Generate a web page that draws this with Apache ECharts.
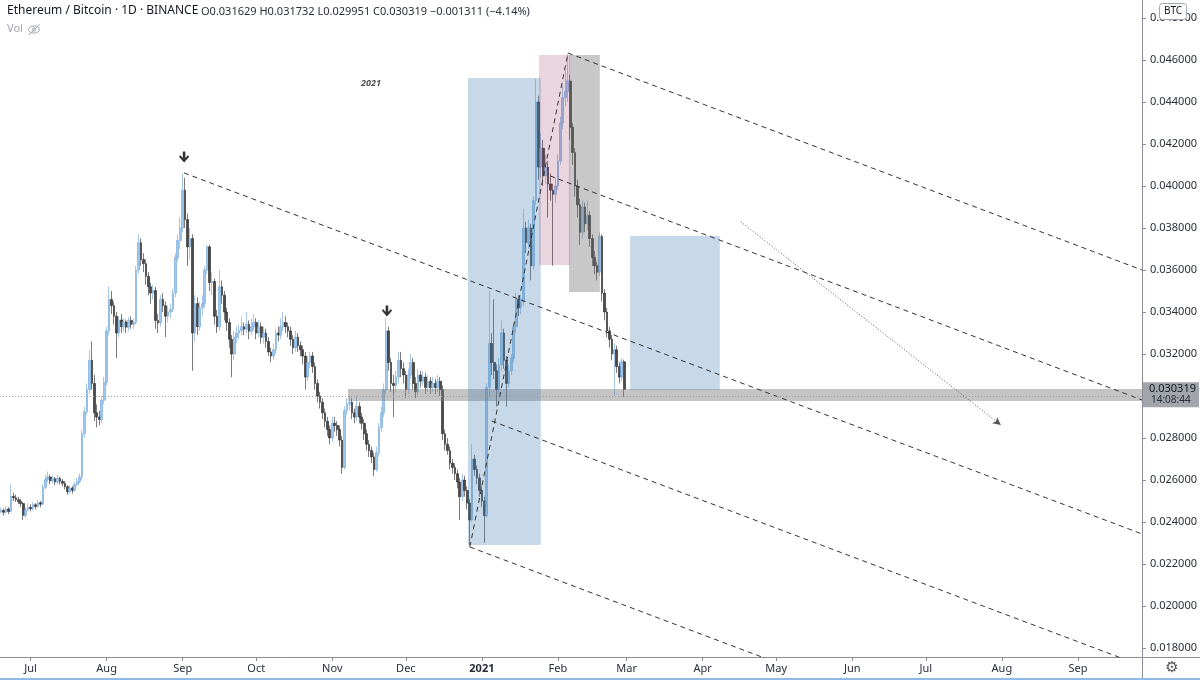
<!DOCTYPE html>
<html><head><meta charset="utf-8">
<script src="https://cdn.jsdelivr.net/npm/echarts@6/dist/echarts.min.js"></script>
<style>html,body{margin:0;padding:0;background:#fff}#c{width:1200px;height:680px}</style>
</head><body><div id="c"></div>
<script>
// ---------- DATA ----------
const firstDate = '2020-06-19';           // first daily candle
const firstOpen = 0.02450;
const lastOpen = 0.031629;                // open of the last (live) candle
const closes = [
0.02455,0.02446,0.02462,0.02450,0.02522,0.02515,0.02506,0.02498,0.02488,0.02432,
0.02458,0.02470,0.02463,0.02482,0.02474,0.02492,0.02485,0.02565,0.02602,0.02614,
0.02596,0.02606,0.02590,0.02608,0.02594,0.02584,0.02568,0.02544,0.02562,0.02550,
0.02578,0.02592,0.02614,0.02820,0.02925,0.03030,0.03170,0.03060,0.02920,0.02900,
0.02888,0.02980,0.03065,0.03310,0.03460,0.03430,0.03380,0.03300,0.03362,0.03330,
0.03352,0.03328,0.03360,0.03342,0.03350,0.03600,0.03730,0.03650,0.03630,0.03570,
0.03520,0.03490,0.03502,0.03360,0.03348,0.03460,0.03430,0.03380,0.03400,0.03412,
0.03490,0.03660,0.03740,0.03800,0.03980,0.03840,0.03710,0.03750,0.03300,0.03440,
0.03330,0.03420,0.03440,0.03600,0.03710,0.03540,0.03545,0.03380,0.03330,0.03520,
0.03480,0.03400,0.03350,0.03270,0.03200,0.03280,0.03300,0.03312,0.03330,0.03318,
0.03342,0.03308,0.03330,0.03350,0.03300,0.03330,0.03280,0.03300,0.03260,0.03210,
0.03190,0.03220,0.03300,0.03290,0.03330,0.03350,0.03330,0.03310,0.03270,0.03230,
0.03280,0.03240,0.03220,0.03190,0.03090,0.03160,0.03190,0.03140,0.03060,0.03000,
0.02970,0.02920,0.02880,0.02840,0.02800,0.02870,0.02860,0.02840,0.02790,0.02660,
0.02930,0.02960,0.02970,0.02920,0.02900,0.02950,0.02900,0.02870,0.02820,0.02770,
0.02740,0.02710,0.02650,0.02730,0.02850,0.02920,0.03030,0.03310,0.03160,0.03060,
0.03050,0.03090,0.03170,0.03130,0.03100,0.03030,0.03100,0.03160,0.03060,0.03020,
0.03100,0.03070,0.03090,0.03040,0.03070,0.03040,0.03060,0.03040,0.03070,0.03030,
0.02820,0.02770,0.02740,0.02680,0.02660,0.02630,0.02590,0.02520,0.02600,0.02550,
0.02490,0.02410,0.02700,0.02650,0.02610,0.02550,0.02500,0.02430,0.03040,0.03250,
0.03160,0.03120,0.03030,0.03150,0.03300,0.03170,0.03060,0.03120,0.03180,0.03330,
0.03460,0.03420,0.03450,0.03800,0.03730,0.03800,0.03620,0.03930,0.04400,0.04090,
0.04180,0.04050,0.04090,0.04010,0.03980,0.03960,0.04000,0.04120,0.04300,0.04420,
0.04450,0.04500,0.04280,0.04160,0.04000,0.03910,0.03780,0.03900,0.03820,0.03860,
0.03750,0.03660,0.03620,0.03590,0.03760,0.03490,0.03400,0.03310,0.03270,0.03200,
0.03220,0.03140,0.03090,0.03163,0.030319
];
const highs = [
0.02470,0.02465,0.02475,0.02470,0.02580,0.02540,0.02530,0.02520,0.02510,0.02495,
0.02470,0.02490,0.02485,0.02495,0.02490,0.02505,0.02500,0.02580,0.02625,0.02640,
0.02625,0.02620,0.02615,0.02625,0.02615,0.02605,0.02595,0.02575,0.02575,0.02570,
0.02590,0.02610,0.02630,0.02840,0.02950,0.03060,0.03220,0.03260,0.03100,0.02960,
0.02930,0.03000,0.03090,0.03330,0.03520,0.03500,0.03450,0.03400,0.03380,0.03390,
0.03370,0.03365,0.03375,0.03380,0.03370,0.03620,0.03770,0.03750,0.03680,0.03650,
0.03590,0.03540,0.03530,0.03520,0.03390,0.03480,0.03490,0.03450,0.03430,0.03440,
0.03510,0.03680,0.03770,0.03850,0.04060,0.04040,0.03870,0.03800,0.03770,0.03480,
0.03470,0.03450,0.03480,0.03620,0.03720,0.03720,0.03590,0.03560,0.03410,0.03600,
0.03550,0.03500,0.03420,0.03370,0.03290,0.03310,0.03330,0.03340,0.03380,0.03350,
0.03400,0.03360,0.03370,0.03390,0.03370,0.03360,0.03350,0.03330,0.03320,0.03280,
0.03230,0.03250,0.03320,0.03330,0.03370,0.03400,0.03380,0.03350,0.03330,0.03290,
0.03310,0.03300,0.03260,0.03240,0.03210,0.03190,0.03210,0.03210,0.03160,0.03080,
0.03020,0.02990,0.02940,0.02900,0.02860,0.02900,0.02900,0.02880,0.02860,0.02810,
0.02950,0.02990,0.03000,0.02990,0.02940,0.03000,0.02970,0.02920,0.02890,0.02840,
0.02790,0.02760,0.02730,0.02760,0.02870,0.02950,0.03060,0.03370,0.03330,0.03180,
0.03100,0.03120,0.03210,0.03210,0.03160,0.03120,0.03130,0.03200,0.03180,0.03090,
0.03130,0.03120,0.03120,0.03110,0.03100,0.03090,0.03090,0.03080,0.03100,0.03090,
0.03050,0.02840,0.02800,0.02760,0.02700,0.02680,0.02650,0.02610,0.02630,0.02620,
0.02570,0.02510,0.02770,0.02720,0.02670,0.02630,0.02570,0.02520,0.03060,0.03500,
0.03300,0.03460,0.03150,0.03180,0.03360,0.03320,0.03190,0.03150,0.03200,0.03350,
0.03490,0.03480,0.03470,0.03890,0.03830,0.03840,0.03820,0.03950,0.04510,0.04430,
0.04250,0.04220,0.04150,0.04120,0.04060,0.04010,0.04040,0.04150,0.04330,0.04480,
0.04550,0.04630,0.04530,0.04300,0.04180,0.04030,0.03940,0.03930,0.03920,0.03930,
0.03880,0.03770,0.03690,0.03640,0.03780,0.03770,0.03510,0.03420,0.03330,0.03290,
0.03250,0.03240,0.03160,0.03180,0.031732
];
const lows = [
0.02440,0.02430,0.02440,0.02438,0.02445,0.02500,0.02495,0.02485,0.02470,0.02410,
0.02420,0.02450,0.02450,0.02455,0.02460,0.02468,0.02470,0.02480,0.02555,0.02590,
0.02580,0.02585,0.02575,0.02580,0.02578,0.02570,0.02555,0.02530,0.02535,0.02535,
0.02545,0.02570,0.02585,0.02600,0.02800,0.02910,0.03010,0.03030,0.02880,0.02850,
0.02860,0.02870,0.02960,0.03050,0.03290,0.03390,0.03340,0.03180,0.03280,0.03300,
0.03310,0.03300,0.03310,0.03320,0.03320,0.03340,0.03580,0.03620,0.03590,0.03530,
0.03480,0.03440,0.03460,0.03320,0.03300,0.03330,0.03400,0.03280,0.03350,0.03370,
0.03400,0.03470,0.03640,0.03700,0.03780,0.03800,0.03620,0.03650,0.03120,0.03260,
0.03290,0.03310,0.03380,0.03420,0.03580,0.03500,0.03480,0.03340,0.03300,0.03310,
0.03440,0.03360,0.03310,0.03230,0.03090,0.03170,0.03250,0.03270,0.03290,0.03290,
0.03300,0.03270,0.03290,0.03310,0.03270,0.03280,0.03250,0.03250,0.03230,0.03190,
0.03160,0.03170,0.03200,0.03260,0.03270,0.03310,0.03300,0.03280,0.03240,0.03200,
0.03210,0.03210,0.03190,0.03150,0.03030,0.03070,0.03130,0.03110,0.03030,0.02970,
0.02940,0.02890,0.02850,0.02810,0.02770,0.02780,0.02830,0.02810,0.02760,0.02630,
0.02650,0.02910,0.02930,0.02890,0.02870,0.02880,0.02870,0.02840,0.02790,0.02740,
0.02710,0.02680,0.02620,0.02640,0.02710,0.02830,0.02900,0.03010,0.03120,0.03020,
0.02900,0.03020,0.03060,0.03090,0.03060,0.02990,0.03010,0.03080,0.03030,0.02990,
0.03000,0.03040,0.03050,0.03010,0.03020,0.03010,0.03020,0.03010,0.03020,0.03000,
0.02790,0.02740,0.02720,0.02650,0.02630,0.02600,0.02560,0.02410,0.02500,0.02520,
0.02460,0.02290,0.02400,0.02620,0.02580,0.02520,0.02470,0.02300,0.02420,0.03000,
0.03100,0.03080,0.02950,0.03010,0.03120,0.03130,0.02950,0.03040,0.03100,0.03160,
0.03300,0.03380,0.03390,0.03430,0.03680,0.03700,0.03550,0.03600,0.03910,0.04030,
0.04040,0.04000,0.04010,0.03850,0.03930,0.03620,0.03920,0.03980,0.04100,0.04270,
0.04380,0.04400,0.04220,0.04100,0.03950,0.03850,0.03720,0.03750,0.03780,0.03790,
0.03710,0.03620,0.03580,0.03550,0.03570,0.03450,0.03360,0.03280,0.03230,0.03170,
0.03000,0.03110,0.03060,0.03070,0.029951
];

// axis
const refDate = '2020-07-01';               // x axis counts days from this date
const xStart = '2020-06-18T12:40:00';
const xEnd   = '2021-09-27T03:00:00';
const monthTicks = ['2020-07-01','2020-08-01','2020-09-01','2020-10-01','2020-11-01','2020-12-01',
  '2021-01-01','2021-02-01','2021-03-01','2021-04-01','2021-05-01','2021-06-01','2021-07-01','2021-08-01','2021-09-01'];
const monthNames = ['Jan','Feb','Mar','Apr','May','Jun','Jul','Aug','Sep','Oct','Nov','Dec'];
const yMin = 0.017571, yMax = 0.048857;
const yTicks = [0.018,0.020,0.022,0.024,0.026,0.028,0.030,0.032,0.034,0.036,0.038,0.040,0.042,0.044,0.046,0.048];

// drawings (date, price)
const channelLines = [
  [['2021-02-05T02:00:00',0.04633],['2021-09-27T03:00:00',0.03600]],
  [['2021-01-28T19:00:00',0.04048],['2021-09-27T03:00:00',0.02981]],
  [['2020-09-01T14:00:00',0.04062],['2021-09-27T03:00:00',0.02343]],
  [['2021-01-05T00:00:00',0.02881],['2021-09-27T03:00:00',0.01715]],
  [['2020-12-27T02:00:00',0.02281],['2021-09-27T03:00:00',0.01075]],
  [['2020-12-27T02:00:00',0.02281],['2021-02-05T02:00:00',0.04633]]
];
const projectionArrow = [['2021-04-16T14:00:00',0.03829],['2021-07-31T14:00:00',0.02862]];
const zoneBand = [['2020-11-07T10:00:00',0.03033],['2021-09-27T03:00:00',0.02976]];
const boxes = [
  {from:['2020-12-26T07:00:00',0.045143], to:['2021-01-25T00:00:00',0.022905], color:'rgba(70,130,180,0.30)'},
  {from:['2021-01-24T07:00:00',0.046238], to:['2021-02-05T22:00:00',0.036238], color:'rgba(150,45,95,0.20)'},
  {from:['2021-02-05T12:00:00',0.046238], to:['2021-02-18T02:00:00',0.034952], color:'rgba(110,110,110,0.38)'},
  {from:['2021-03-02T10:00:00',0.037619], to:['2021-04-08T00:00:00',0.030286], color:'rgba(70,130,180,0.30)'}
];
const topMarkers = [['2020-09-01T14:00:00',0.04138],['2020-11-23T07:00:00',0.03405]];
const yearNote = ['2020-11-16T19:00:00',0.04490,'2021'];
const countdown = '14:08:44';

// ---------- BUILD ----------
const ms = s => new Date(s.length === 10 ? s + 'T00:00:00' : s).getTime();
const DAY = 86400000;
const ref = ms(refDate);
const X = s => (ms(s) - ref) / DAY;          // day number on the x axis
const first = X(firstDate);
const candles = closes.map((c, i) => {
  const o = i === 0 ? firstOpen : (i === closes.length - 1 ? lastOpen : closes[i - 1]);
  return [first + i, o, c, lows[i], highs[i]];
});
const last = candles[candles.length - 1];
const prevClose = closes[closes.length - 2];
const xTickVals = monthTicks.map(X);
const labelFor = v => {
  const d = new Date(ref + Math.round(v) * DAY + 3600000 * 3);
  return d.getMonth() === 0 ? '{y|' + d.getFullYear() + '}' : monthNames[d.getMonth()];
};

const chart = echarts.init(document.getElementById('c'), null, {renderer: 'canvas'});
const FONT = '"Noto Sans", "DejaVu Sans", sans-serif';
const axisColor = '#8a8d96';
const textColor = '#2a2e39';

const series = [
  {
    type: 'candlestick', z: 2, data: candles, encode: {x: 0, y: [1, 2, 3, 4]},
    barWidth: 2.2,
    itemStyle: {color: '#9fc8ee', color0: '#4a4a4a', borderColor: '#6fa3d6', borderColor0: '#222222', borderWidth: 0.6},
    markLine: {
      silent: true, symbol: ['none', 'none'], animation: false,
      lineStyle: {type: [1, 2], color: '#a0a0a0', width: 1},
      label: {show: false},
      data: [{yAxis: last[2]}]
    }
  },
  {
    type: 'line', z: 3, data: [[X(zoneBand[0][0]), zoneBand[0][1]]], symbol: 'none', lineStyle: {opacity: 0}, silent: true,
    markArea: {
      silent: true, z: 3, animation: false,
      data: [[{coord: [X(zoneBand[0][0]), zoneBand[0][1]], itemStyle: {color: 'rgba(125,125,125,0.45)'}}, {coord: [X(zoneBand[1][0]), zoneBand[1][1]]}]]
        .concat(boxes.map(b => [{coord: [X(b.from[0]), b.from[1]], itemStyle: {color: b.color}}, {coord: [X(b.to[0]), b.to[1]]}]))
    },
    markLine: {
      silent: true, animation: false, symbol: ['none', 'arrow'], symbolSize: [6, 8],
      lineStyle: {type: [1, 2], color: '#555', width: 1},
      label: {show: false},
      data: [[{coord: [X(projectionArrow[0][0]), projectionArrow[0][1]]}, {coord: [X(projectionArrow[1][0]), projectionArrow[1][1]]}]]
    }
  }
];
channelLines.forEach(l => {
  series.push({
    type: 'line', z: 4, silent: true, symbol: 'none', animation: false, clip: true,
    data: l.map(p => [X(p[0]), p[1]]),
    lineStyle: {type: [5, 4], color: '#333', width: 1}
  });
});
series.push({
  type: 'scatter', z: 5, silent: true,
  symbol: 'path://M3.6,0 L6.4,0 L6.4,6.2 L9.2,3.4 L10.4,5.2 L5,10.6 L-0.4,5.2 L0.8,3.4 L3.6,6.2 Z',
  symbolSize: [10, 11], itemStyle: {color: '#000'},
  data: topMarkers.map(p => [X(p[0]), p[1]])
});
series.push({
  type: 'scatter', z: 5, silent: true, symbolSize: 1, itemStyle: {color: 'rgba(0,0,0,0)'},
  label: {show: true, position: 'inside', formatter: yearNote[2], fontStyle: 'italic', fontWeight: 'bold', fontSize: 9, color: '#222', fontFamily: FONT},
  data: [[X(yearNote[0]), yearNote[1]]]
});

chart.setOption({
  animation: false,
  backgroundColor: '#ffffff',
  grid: {left: 0, right: 58, top: 0, bottom: 23, containLabel: false, outerBoundsMode: 'none'},
  xAxis: {
    type: 'value', min: X(xStart), max: X(xEnd), scale: true,
    axisLine: {show: true, onZero: false, lineStyle: {color: axisColor, width: 1}},
    axisTick: {show: true, length: 4, lineStyle: {color: axisColor}, customValues: xTickVals},
    axisLabel: {
      customValues: xTickVals, color: textColor, fontSize: 11, margin: 6, fontFamily: FONT,
      formatter: labelFor,
      rich: {y: {fontWeight: 'bold', fontSize: 11, color: textColor, fontFamily: FONT}}
    },
    splitLine: {show: false}
  },
  yAxis: {
    type: 'value', position: 'right', min: yMin, max: yMax, scale: true,
    axisLine: {show: true, onZero: false, lineStyle: {color: axisColor, width: 1}},
    axisTick: {show: true, length: 4, lineStyle: {color: axisColor}, customValues: yTicks},
    axisLabel: {customValues: yTicks, color: textColor, fontSize: 11, margin: 8, fontFamily: FONT, formatter: v => v.toFixed(6)},
    splitLine: {show: false}
  },
  series: series
});

// ---------- OVERLAY TEXTS ----------
const yPrice = chart.convertToPixel({yAxisIndex: 0}, last[2]);
const change = last[2] - prevClose;
const sign = change < 0 ? '\u2212' : '+';
const ohlc = 'O' + last[1].toFixed(6) + ' H' + last[4].toFixed(6) + ' L' + last[3].toFixed(6) + ' C' + last[2].toFixed(6) +
  ' ' + sign + Math.abs(change).toFixed(6) + ' (' + sign + Math.abs(change / prevClose * 100).toFixed(2) + '%)';

chart.setOption({
  graphic: [
    {type: 'text', left: 7, top: 5, style: {text: 'Ethereum / Bitcoin \u00b7 1D \u00b7 BINANCE', font: '12px ' + FONT, fill: '#131722'}},
    {type: 'text', left: 201, top: 6, style: {text: ohlc, font: '11px ' + FONT, fill: '#2a2e39'}},
    {type: 'text', left: 7, top: 23, style: {text: 'Vol', font: '11px ' + FONT, fill: '#a3a6af'}},
    {type: 'ellipse', shape: {cx: 34, cy: 29.5, rx: 5.5, ry: 3.6}, style: {fill: 'none', stroke: '#a3a6af', lineWidth: 1}},
    {type: 'circle', shape: {cx: 34, cy: 29.5, r: 1.6}, style: {fill: 'none', stroke: '#a3a6af', lineWidth: 1}},
    {type: 'line', shape: {x1: 29, y1: 35, x2: 39.5, y2: 24}, style: {stroke: '#a3a6af', lineWidth: 1}},
    {type: 'rect', shape: {x: 1159.5, y: 3.5, width: 27, height: 16, r: 3}, style: {fill: '#fff', stroke: '#a3a6af', lineWidth: 1}, z: 10},
    {type: 'text', x: 1173, y: 11.5, style: {text: 'BTC', font: '10px ' + FONT, fill: '#131722', align: 'center', verticalAlign: 'middle'}, z: 11},
    {type: 'rect', shape: {x: 1143, y: yPrice - 7, width: 56, height: 25}, style: {fill: '#a2a5ac'}, z: 10},
    {type: 'text', x: 1149, y: yPrice, style: {text: last[2].toFixed(6), font: '11px ' + FONT, fill: '#131722', verticalAlign: 'middle'}, z: 11},
    {type: 'text', x: 1151, y: yPrice + 11, style: {text: countdown, font: '10px ' + FONT, fill: '#2a2e39', verticalAlign: 'middle'}, z: 11},
    {type: 'line', shape: {x1: 1142, y1: 657.5, x2: 1200, y2: 657.5}, style: {stroke: axisColor, lineWidth: 1}},
    {type: 'line', shape: {x1: 1142.5, y1: 657, x2: 1142.5, y2: 680}, style: {stroke: axisColor, lineWidth: 1}},
    {type: 'text', x: 1172, y: 668, style: {text: '\u2699', font: '15px "DejaVu Sans"', fill: '#555', align: 'center', verticalAlign: 'middle'}},
    {type: 'rect', shape: {x: 0, y: 678, width: 1200, height: 2}, style: {fill: '#8dbbe6'}}
  ]
});
</script></body></html>
